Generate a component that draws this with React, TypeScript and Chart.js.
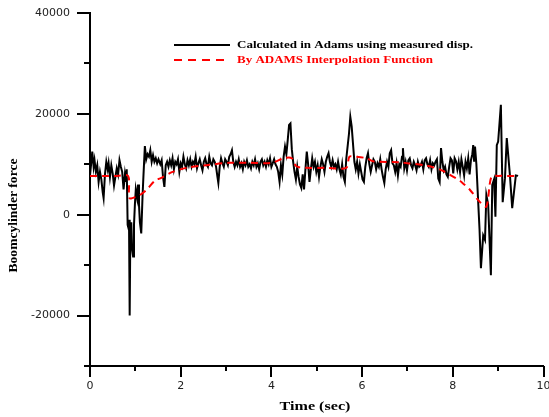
import { useEffect, useRef } from 'react';
import { Chart, registerables } from 'chart.js';

Chart.register(...registerables);

// Series names (legend)
const seriesNames = [
  'Calculated in Adams using measured disp.',
  'By ADAMS Interpolation Function',
];

// Black series: time (sec) and force
const calcTimes = [
  0.00, 0.03, 0.05, 0.08, 0.10, 0.13, 0.16, 0.19, 0.22, 0.25, 0.28, 0.30, 0.33, 0.36, 0.39, 0.41, 0.44, 0.47, 0.50, 0.53,
  0.56, 0.59, 0.62, 0.65, 0.68, 0.71, 0.74, 0.77, 0.79, 0.81, 0.83, 0.85, 0.86, 0.875, 0.89, 0.91, 0.93, 0.95, 0.97, 0.99,
  1.01, 1.04, 1.06, 1.08, 1.10, 1.13, 1.16, 1.18, 1.21, 1.24, 1.27, 1.30, 1.33, 1.36, 1.39, 1.42, 1.45, 1.48, 1.51, 1.55,
  1.58, 1.61, 1.64, 1.67, 1.70, 1.73, 1.76, 1.79, 1.82, 1.85, 1.88, 1.91, 1.94, 1.97, 2.00, 2.03, 2.06, 2.09, 2.12, 2.15,
  2.18, 2.21, 2.24, 2.27, 2.30, 2.33, 2.36, 2.39, 2.42, 2.45, 2.48, 2.51, 2.54, 2.57, 2.60, 2.63, 2.66, 2.69, 2.72, 2.75,
  2.78, 2.81, 2.83, 2.86, 2.89, 2.92, 2.95, 2.98, 3.01, 3.04, 3.07, 3.10, 3.13, 3.16, 3.19, 3.22, 3.25, 3.28, 3.31, 3.34,
  3.37, 3.40, 3.43, 3.46, 3.49, 3.52, 3.55, 3.58, 3.61, 3.64, 3.67, 3.70, 3.73, 3.76, 3.79, 3.82, 3.85, 3.88, 3.91, 3.94,
  3.97, 4.00, 4.03, 4.06, 4.09, 4.12, 4.15, 4.18, 4.21, 4.24, 4.27, 4.30, 4.33, 4.36, 4.39, 4.42, 4.45, 4.48, 4.51, 4.54,
  4.57, 4.60, 4.63, 4.66, 4.69, 4.72, 4.75, 4.78, 4.81, 4.84, 4.87, 4.90, 4.93, 4.96, 4.99, 5.02, 5.05, 5.08, 5.11, 5.14,
  5.17, 5.20, 5.23, 5.26, 5.29, 5.32, 5.35, 5.38, 5.41, 5.44, 5.47, 5.50, 5.53, 5.56, 5.59, 5.62, 5.65, 5.68, 5.71, 5.74,
  5.77, 5.80, 5.83, 5.86, 5.89, 5.92, 5.95, 5.98, 6.01, 6.04, 6.07, 6.10, 6.13, 6.16, 6.19, 6.22, 6.25, 6.28, 6.31, 6.34,
  6.37, 6.40, 6.43, 6.46, 6.49, 6.52, 6.55, 6.58, 6.61, 6.64, 6.67, 6.70, 6.73, 6.76, 6.79, 6.82, 6.85, 6.88, 6.90, 6.93,
  6.96, 6.99, 7.02, 7.05, 7.08, 7.11, 7.14, 7.17, 7.20, 7.23, 7.26, 7.29, 7.32, 7.35, 7.38, 7.41, 7.44, 7.47, 7.50, 7.53,
  7.56, 7.59, 7.62, 7.65, 7.68, 7.71, 7.74, 7.77, 7.80, 7.83, 7.86, 7.89, 7.92, 7.95, 7.98, 8.01, 8.04, 8.07, 8.10, 8.13,
  8.16, 8.19, 8.22, 8.25, 8.28, 8.31, 8.34, 8.37, 8.40, 8.43, 8.45, 8.47, 8.49, 8.52, 8.56, 8.59, 8.62, 8.67, 8.71, 8.74,
  8.78, 8.84, 8.87, 8.91, 8.94, 8.97, 9.00, 9.06, 9.10, 9.15, 9.19, 9.26, 9.31, 9.39, 9.44,
];
const calcForces = [
  7800, 10500, 12500, 9500, 10800, 8500, 9800, 6500, 8500, 7000, 4500, 3300, 8000, 10500, 9000, 10200, 7500, 9800, 8200, 5800,
  7500, 9200, 8000, 10800, 9500, 8500, 5000, 8000, 6500, 9000, -2000, -2700, -1000, -20000, -3000, -1500, -7000, -8300, -2000, 2000,
  5000, 3300, 6000, 2000, -1500, -3700, 4000, 8000, 13600, 11000, 12000, 11500, 12800, 10500, 11800, 10500, 11200, 10200, 11000, 10000,
  10800, 7500, 5500, 9800, 10500, 9500, 10800, 9800, 11200, 9000, 10500, 10000, 11000, 8500, 10200, 9500, 11500, 10000, 9200, 10800,
  9800, 11000, 9500, 10500, 10000, 11500, 9200, 10200, 11000, 9800, 8800, 10500, 11200, 10000, 9500, 11500, 10200, 9800, 11000, 10500,
  9500, 7500, 6300, 9500, 11200, 10200, 9500, 11000, 10500, 9800, 11500, 12000, 12800, 10500, 9500, 10500, 9800, 11000, 9500, 10200,
  9000, 10500, 9800, 10800, 9500, 10000, 9200, 10500, 9800, 11000, 9500, 10200, 9000, 10500, 11000, 9800, 10500, 9500, 10800, 10000,
  11200, 9500, 10200, 11000, 10000, 9500, 8500, 6500, 9800, 8000, 11500, 13500, 12000, 14800, 17800, 18100, 13000, 10500, 8500, 7000,
  9500, 7500, 6000, 5300, 8000, 5000, 9000, 12500, 10000, 6500, 9000, 11200, 9500, 10500, 8500, 9800, 7500, 9500, 11000, 10000,
  8500, 10500, 11500, 12200, 10500, 9500, 10800, 9500, 10000, 9000, 10500, 9000, 8000, 10000, 7500, 6500, 11000, 13500, 16000, 19400,
  17500, 14000, 10500, 9000, 10500, 8200, 10000, 8500, 7000, 6500, 9500, 11200, 12200, 10000, 8500, 9800, 11000, 10500, 9000, 10200,
  9500, 11000, 9000, 7500, 6300, 9000, 10500, 9500, 12200, 12800, 10200, 9800, 8500, 10200, 7800, 10000, 9500, 11500, 13200, 9200,
  10500, 8800, 10800, 11200, 9800, 9200, 10500, 9800, 8800, 10500, 9500, 9800, 10500, 9000, 10800, 11200, 10000, 9500, 10800, 9000,
  10200, 9800, 10500, 11000, 7200, 6500, 13200, 10500, 8800, 9500, 8000, 7500, 9500, 11200, 10800, 8200, 11200, 10600, 9000, 10500,
  8500, 11000, 9500, 7800, 10500, 9200, 11200, 8000, 10800, 12000, 13800, 10500, 13500, 10000, 2500, -3000, -10600, -4100, -5000, 3900,
  2000, -12000, 5900, 7000, -400, 13800, 14500, 21800, 2500, 7200, 15200, 7800, 1300, 7800, 7700,
];

// Red dashed series: time (sec) and force
const interpTimes = [
  0.00, 0.30, 0.60, 0.84, 0.87, 1.00, 1.10, 1.24, 1.45, 1.55, 1.82, 2.19, 2.56, 3.07, 3.50, 4.00, 4.28, 4.45, 4.55, 4.75,
  5.20, 5.65, 5.72, 5.85, 6.10, 6.24, 6.83, 7.00, 7.38, 7.71, 7.82, 8.08, 8.19, 8.38, 8.60, 8.74, 8.85, 9.00, 9.20, 9.45,
];
const interpForces = [
  7700, 7700, 7700, 7700, 3300, 3500, 3900, 4900, 6900, 7200, 8500, 9400, 9800, 10300, 10300, 10300, 11200, 11200, 9600, 9300,
  9300, 9300, 11500, 11500, 11200, 10600, 10400, 10200, 9800, 9000, 8500, 7200, 6500, 4900, 2500, 1600, 7500, 7700, 7700, 7700,
];

// Axis settings
const xMin = 0;
const xMax = 10;
const yMin = -30000;
const yMax = 40000;
const xTitle = 'Time (sec)';
const yTitle = 'Boomcylinder force';

function stretchedText(
  ctx: CanvasRenderingContext2D,
  text: string,
  x: number,
  y: number,
  sx: number,
  align: CanvasTextAlign,
  rotate = 0,
) {
  ctx.save();
  ctx.translate(x, y);
  if (rotate) ctx.rotate(rotate);
  ctx.scale(sx, 1);
  ctx.textAlign = align;
  ctx.textBaseline = 'middle';
  ctx.fillText(text, 0, 0);
  ctx.restore();
}

const decorPlugin = {
  id: 'decor',
  afterDraw(chart: any) {
    const ctx = chart.ctx as CanvasRenderingContext2D;
    const xs = chart.scales.x;
    const ys = chart.scales.y;
    const area = chart.chartArea;
    ctx.save();
    ctx.strokeStyle = '#000';
    ctx.lineWidth = 2;
    ctx.setLineDash([]);
    for (let v = yMin; v <= yMax; v += 10000) {
      const py = Math.round(ys.getPixelForValue(v));
      const len = v % 20000 === 0 ? 13 : 6;
      ctx.beginPath();
      ctx.moveTo(area.left, py);
      ctx.lineTo(area.left - len, py);
      ctx.stroke();
    }
    for (let v = xMin; v <= xMax; v += 1) {
      const px = Math.round(xs.getPixelForValue(v));
      const len = v % 2 === 0 ? 11 : 5;
      ctx.beginPath();
      ctx.moveTo(px, area.bottom);
      ctx.lineTo(px, area.bottom + len);
      ctx.stroke();
    }

    // legend
    const lx0 = 174, lx1 = 230, tx = 237, y1 = 45, y2 = 60;
    ctx.lineWidth = 2;
    ctx.strokeStyle = '#000';
    ctx.beginPath();
    ctx.moveTo(lx0, y1);
    ctx.lineTo(lx1, y1);
    ctx.stroke();
    ctx.strokeStyle = '#ff0000';
    ctx.setLineDash([8, 6]);
    ctx.beginPath();
    ctx.moveTo(lx0, y2);
    ctx.lineTo(lx1, y2);
    ctx.stroke();
    ctx.setLineDash([]);
    ctx.font = 'bold 10px "Liberation Serif"';
    ctx.fillStyle = '#000';
    stretchedText(ctx, seriesNames[0], tx, y1, 1.3, 'left');
    ctx.fillStyle = '#ff0000';
    stretchedText(ctx, seriesNames[1], tx, y2, 1.3, 'left');

    // axis titles
    ctx.fillStyle = '#000';
    ctx.font = 'bold 11.5px "Liberation Serif"';
    stretchedText(ctx, xTitle, 315, 407, 1.4, 'center');
    ctx.font = 'bold 11.5px "Liberation Serif"';
    stretchedText(ctx, yTitle, 14, 215.5, 1.18, 'center', -Math.PI / 2);
    ctx.restore();
  },
};

export default function App() {
  const ref = useRef<HTMLCanvasElement | null>(null);
  useEffect(() => {
    if (!ref.current) return;
    const chart = new Chart(ref.current, {
      type: 'line',
      data: {
        datasets: [
          {
            label: seriesNames[0],
            data: calcTimes.map((t, i) => ({ x: t, y: calcForces[i] })),
            borderColor: '#000',
            borderWidth: 2,
            pointRadius: 0,
            tension: 0,
            fill: false,
            order: 1,
          },
          {
            label: seriesNames[1],
            data: interpTimes.map((t, i) => ({ x: t, y: interpForces[i] })),
            borderColor: '#ff0000',
            borderWidth: 2,
            borderDash: [7, 5],
            pointRadius: 0,
            tension: 0.3,
            fill: false,
            order: 0,
          },
        ],
      },
      options: {
        animation: false,
        responsive: false,
        maintainAspectRatio: false,
        layout: { padding: { top: 13, right: 5.5, left: 0, bottom: 0 } },
        plugins: {
          legend: { display: false },
          tooltip: { enabled: false },
          title: { display: false },
        },
        scales: {
          x: {
            type: 'linear',
            min: xMin,
            max: xMax,
            grid: { display: false, drawTicks: false },
            border: { display: true, color: '#000', width: 2 },
            ticks: {
              stepSize: 1,
              padding: 14,
              autoSkip: false,
              maxRotation: 0,
              color: '#222',
              font: { family: 'DejaVu Sans', size: 11 },
              callback: (v: any) => (Number(v) % 2 === 0 ? String(v) : ''),
            },
            afterFit: (s: any) => {
              s.height = 51;
              s.paddingLeft = 0;
              s.paddingRight = 0;
            },
          },
          y: {
            type: 'linear',
            min: yMin,
            max: yMax,
            grid: { display: false, drawTicks: false },
            border: { display: true, color: '#000', width: 2 },
            ticks: {
              stepSize: 10000,
              padding: 20,
              autoSkip: false,
              color: '#222',
              font: { family: 'DejaVu Sans', size: 11 },
              callback: (v: any) => (Number(v) % 20000 === 0 ? String(v) : ''),
            },
            afterFit: (s: any) => {
              s.width = 90;
              s.paddingTop = 0;
              s.paddingBottom = 0;
            },
          },
        },
      },
      plugins: [decorPlugin],
    });
    return () => chart.destroy();
  }, []);
  return (
    <div style={{ position: 'absolute', left: 0, top: 0, width: 549, height: 417, background: '#fff' }}>
      <canvas ref={ref} width={549} height={417} style={{ width: 549, height: 417 }} />
    </div>
  );
}
